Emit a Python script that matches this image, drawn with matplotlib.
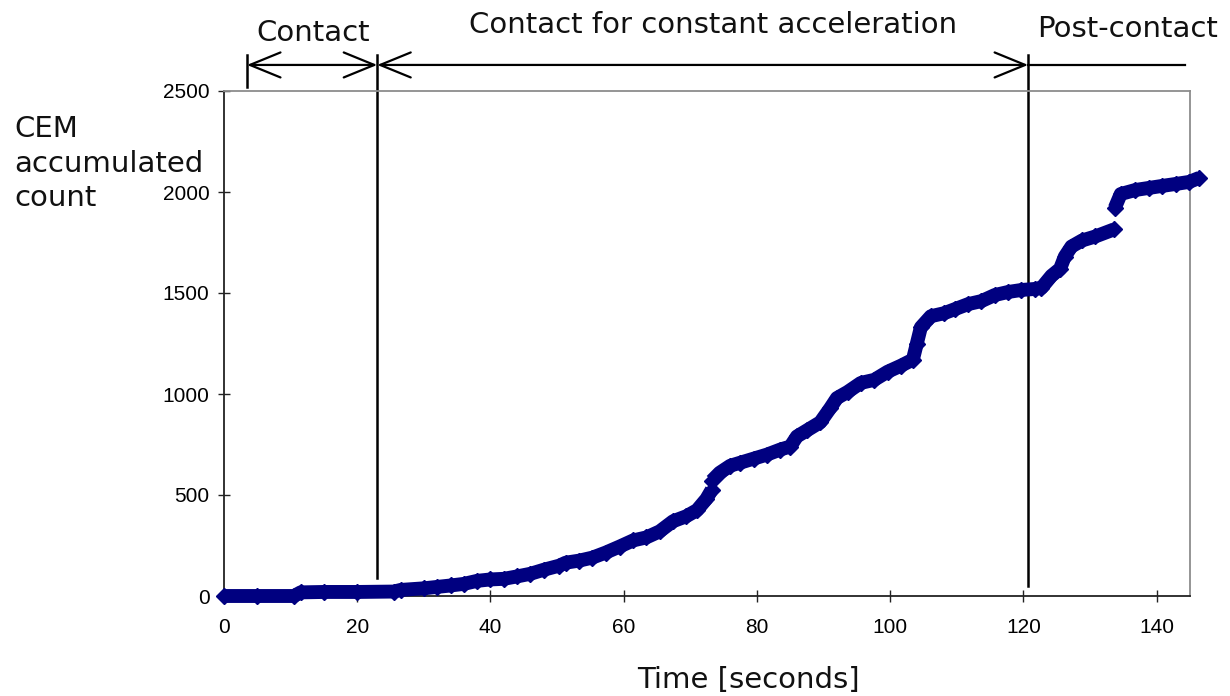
import numpy as np
import matplotlib
matplotlib.use("Agg")
import matplotlib.pyplot as plt

# ---- data ----
time_s = [0, 5, 10.5, 11.5, 15, 20, 25.5, 26.5, 30, 32, 34, 36, 38, 40, 42, 44, 46, 48,
          50.3, 51.3, 53.3, 55.3, 57.3, 59.4, 61.4, 63.4, 65.4, 67.4, 69.4, 71, 72.4, 73.2,
          None,
          73.2, 74.4, 76, 77.5, 79.5, 81.5, 83.5, 85, 86, 87.5, 89.5, 91, 92, 93.6, 95.6,
          97.6, 99.6, 101.6, 103.4, 104, 104.6, 106.1, 108.1, 109.7, 111.7, 113.7, 115.7,
          117.7, 119.7, 121.7, 122.7, 124.2, 125.5, 126.2, 127.2, 128.8, 130.8, 133.6,
          None,
          133.7, 134.6, 136.8, 138.8, 140.8, 142.9, 144.9, 146.4]
counts = [0, 0, 0, 18, 20, 20, 22, 30, 38, 45, 52, 60, 75, 82, 85, 97, 110, 130,
          150, 165, 175, 190, 215, 245, 275, 290, 320, 370, 395, 425, 480, 525,
          None,
          570, 610, 645, 660, 680, 700, 725, 740, 790, 820, 860, 930, 980, 1010, 1055,
          1070, 1110, 1140, 1170, 1250, 1330, 1385, 1400, 1420, 1445, 1460, 1490,
          1505, 1515, 1520, 1525, 1585, 1620, 1680, 1730, 1760, 1780, 1815,
          None,
          1920, 1990, 2010, 2020, 2030, 2040, 2050, 2070]

x_ticks = [0, 20, 40, 60, 80, 100, 120, 140]
y_ticks = [0, 500, 1000, 1500, 2000, 2500]

phase_start = 3.45
contact_end = 23.0
accel_end = 120.7
post_end = 144.3

t = np.array(time_s, dtype=float)
c = np.array(counts, dtype=float)

W, H = 1230, 696
fig = plt.figure(figsize=(W / 100, H / 100), dpi=100)
ax = fig.add_axes([224 / W, 1 - 596 / H, (1190 - 224) / W, (596 - 91) / H])

navy = "#000080"
ax.plot(t, c, color=navy, lw=10, solid_capstyle="butt", marker="D", ms=8.5,
        mec=navy, mfc=navy, clip_on=False, zorder=3)

ax.set_xlim(0, 145)
ax.set_ylim(0, 2500)
ax.set_xticks(x_ticks)
ax.set_yticks(y_ticks)
tick_font = dict(family="Liberation Sans", size=15)
ax.set_xticklabels([str(v) for v in x_ticks], **tick_font)
ax.set_yticklabels([str(v) for v in y_ticks], **tick_font)
ax.tick_params(axis="both", direction="inout", length=9, width=1.0, color="#222222")
ax.tick_params(axis="x", pad=11)
ax.tick_params(axis="y", pad=6)

for s in ["left", "bottom"]:
    ax.spines[s].set_color("#222222")
    ax.spines[s].set_linewidth(1.3)
for s in ["top", "right"]:
    ax.spines[s].set_color("#8c8c8c")
    ax.spines[s].set_linewidth(1.3)

# phase markers
y_top = 2678
y_arrow = 2629
ax.plot([contact_end, contact_end], [89, y_top], color="black", lw=1.8, clip_on=False)
ax.plot([accel_end, accel_end], [50, y_top], color="black", lw=1.8, clip_on=False)
ax.plot([phase_start, phase_start], [2520, y_top], color="black", lw=1.8, clip_on=False)

arrow_style = "<->,head_length=1.1,head_width=0.45"
for a, b in [(phase_start, contact_end), (contact_end, accel_end)]:
    ax.annotate("", xy=(b, y_arrow), xytext=(a, y_arrow),
                arrowprops=dict(arrowstyle=arrow_style, color="black", lw=1.6,
                                shrinkA=0, shrinkB=0, mutation_scale=20),
                annotation_clip=False)
ax.plot([accel_end, post_end], [y_arrow, y_arrow], color="black", lw=1.6, clip_on=False)

label_font = dict(family="DejaVu Sans", size=21, color="#111111")
fig.text(313 / W, 1 - 41 / H, "Contact", ha="center", va="baseline", **label_font)
fig.text(713 / W, 1 - 33 / H, "Contact for constant acceleration", ha="center", va="baseline", **label_font)
fig.text(1128 / W, 1 - 37 / H, "Post-contact", ha="center", va="baseline", **label_font)
for line, base in [("CEM", 137), ("accumulated", 172), ("count", 206)]:
    fig.text(14 / W, 1 - base / H, line, ha="left", va="baseline", **label_font)
fig.text(748 / W, 1 - 688 / H, "Time [seconds]", ha="center", va="baseline", **label_font)

fig.savefig("out.png", dpi=100)
